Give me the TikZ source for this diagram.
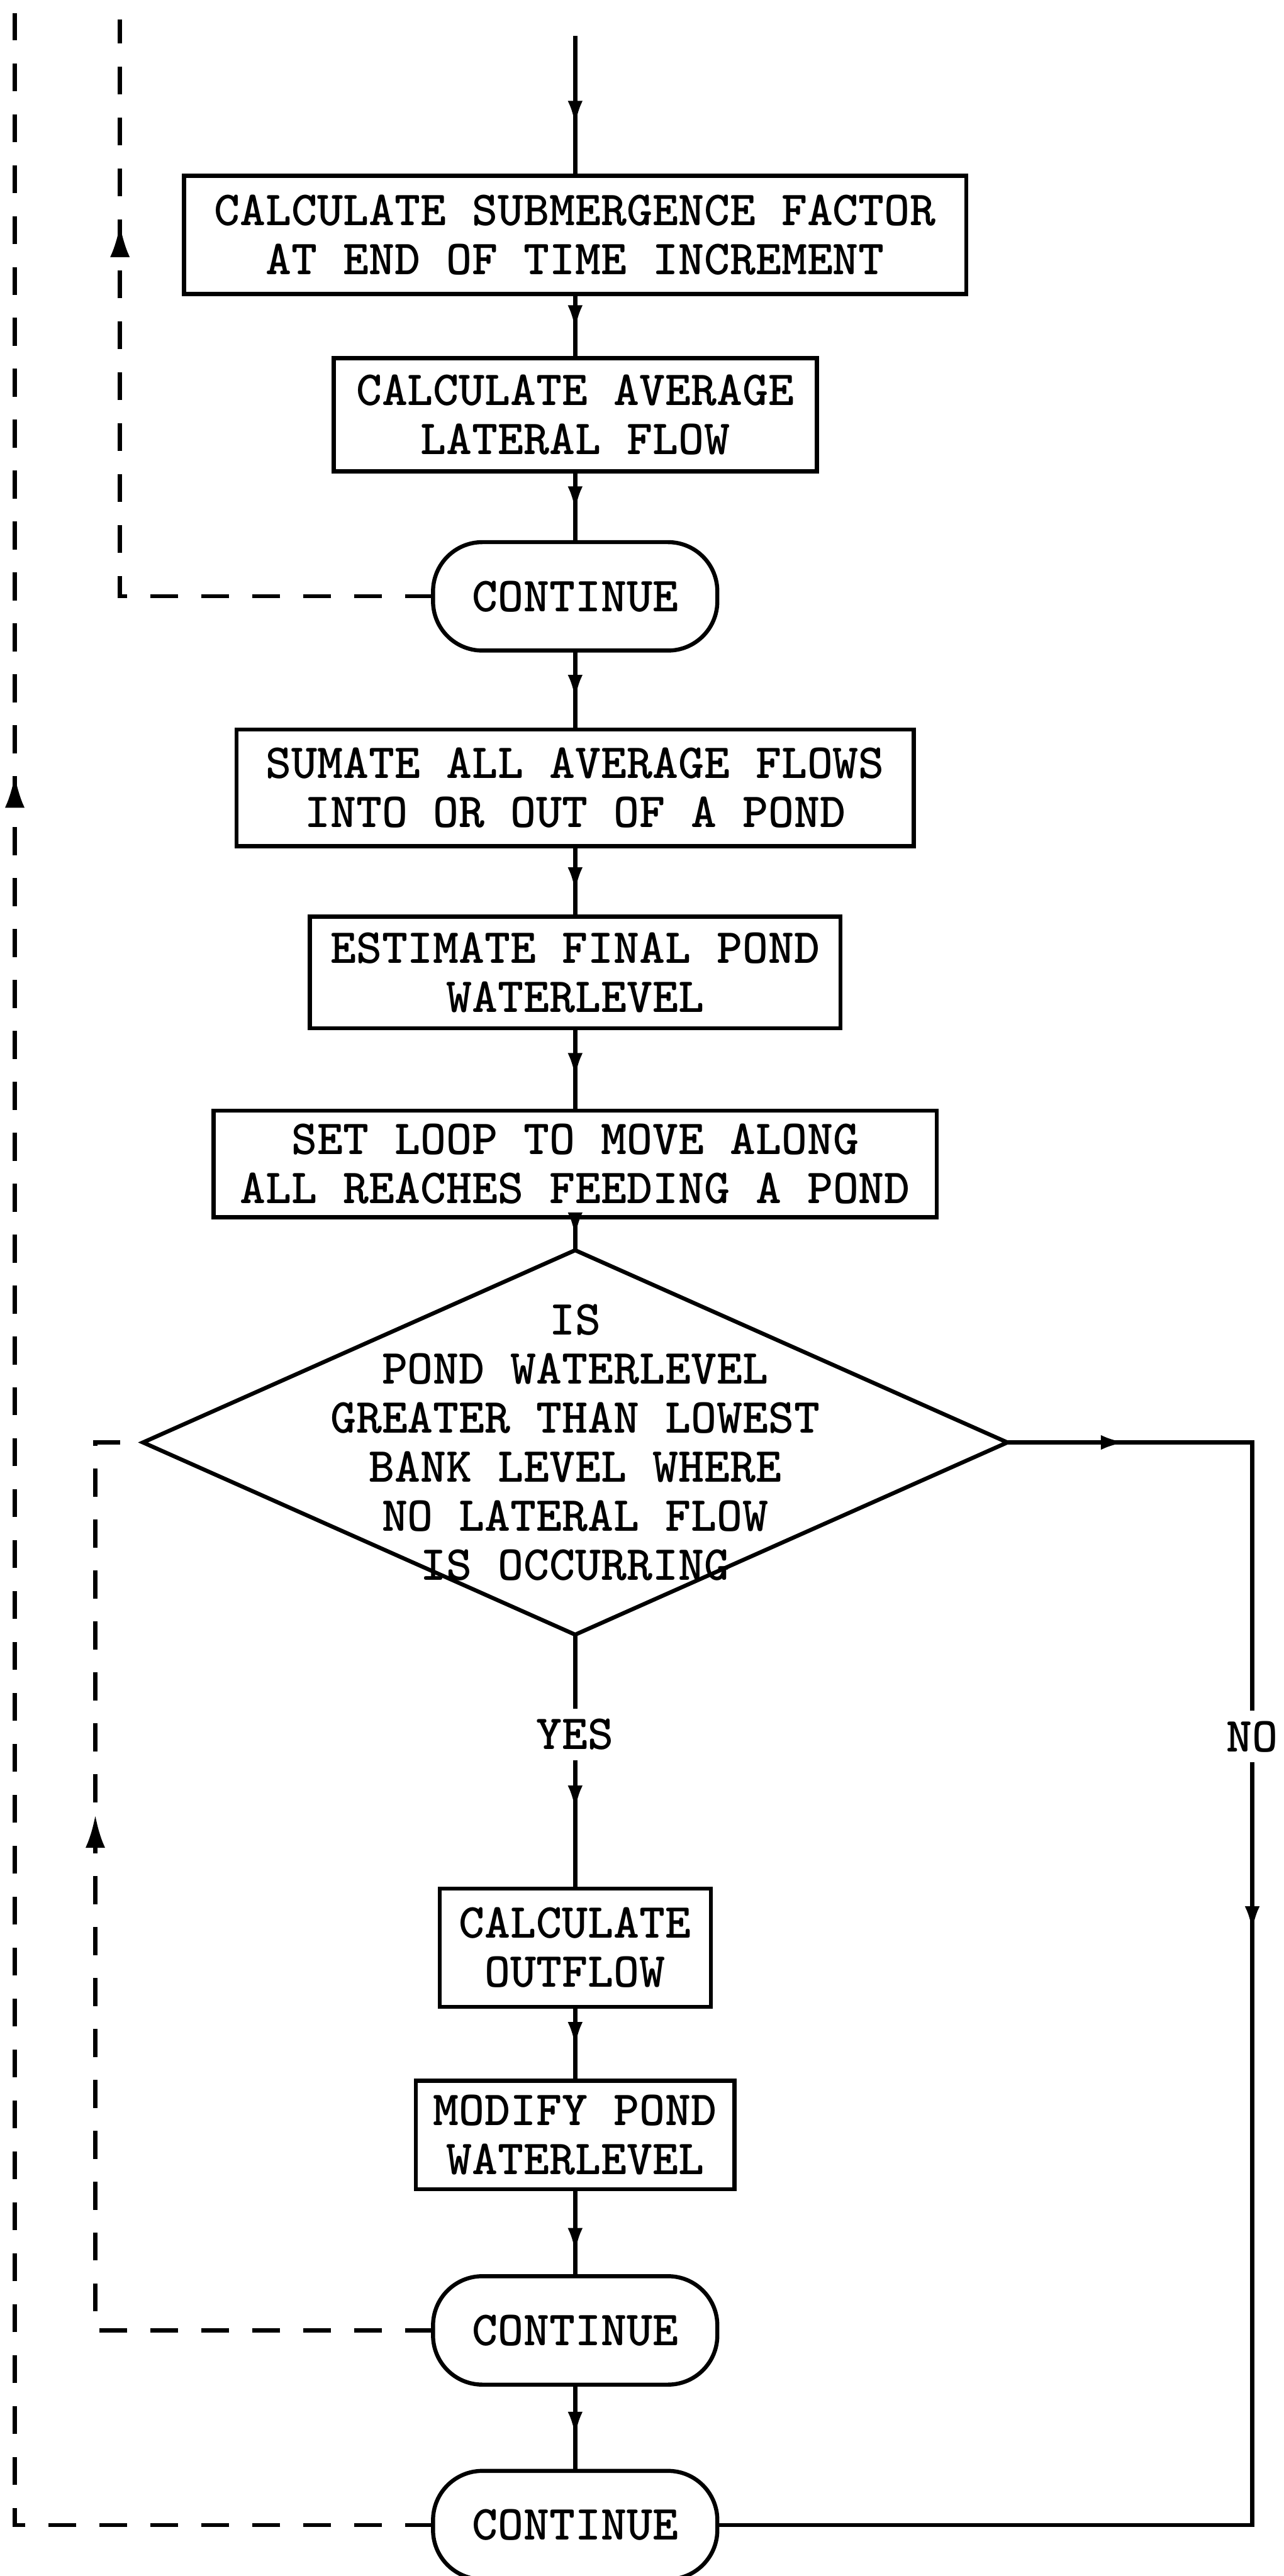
\documentclass[tikz,border=0pt]{standalone}
\usepackage{tikz}
\usetikzlibrary{arrows.meta, positioning, shapes.geometric, decorations.markings}
\newcommand{\flowfont}{\ttfamily\bfseries\fontsize{17}{17}\selectfont}

\begin{document}
\begin{tikzpicture}[
  box/.style={draw,line width=1.4pt,inner sep=1pt,outer sep=0pt,font=\flowfont,align=center},
  term/.style={box,rounded corners=0.6cm,minimum width=3.46cm,minimum height=1.32cm},
  decision/.style={draw,diamond,line width=1.4pt,inner sep=0pt,outer sep=0pt,
    minimum width=10.52cm,minimum height=4.68cm},
  link/.style={line width=1.4pt},
  arr/.style={link,postaction={decorate},decoration={markings,
    mark=at position #1 with {\arrow{Latex[length=0.3cm,width=0.18cm]}}}},
  arr/.default=0.6,
  back/.style={link,dash pattern=on 0.34cm off 0.28cm,postaction={decorate},
    decoration={markings,
    mark=at position #1 with {\arrow{Latex[length=0.4cm,width=0.24cm]}}}}]
  \useasboundingbox (0,0) rectangle (15.62,-31.36);
  \coordinate (entry) at (7,-0.44);
  \coordinate (outtop) at (0.18,-0.16);
  \coordinate (intop) at (1.46,-0.24);
  \node[box,minimum width=9.52cm,minimum height=1.44cm](subfac) at (7,-2.86)
    {CALCULATE SUBMERGENCE FACTOR\\AT END OF TIME INCREMENT};
  \node[box,minimum width=5.88cm,minimum height=1.38cm,below=0.78cm of subfac](latflow)
    {CALCULATE AVERAGE\\LATERAL FLOW};
  \node[term,below=0.86cm of latflow](cont1){CONTINUE};
  \node[box,minimum width=8.24cm,minimum height=1.42cm,below=0.96cm of cont1](sumflow)
    {SUMATE ALL AVERAGE FLOWS\\INTO OR OUT OF A POND};
  \node[box,minimum width=6.46cm,minimum height=1.36cm,below=0.86cm of sumflow](estlev)
    {ESTIMATE FINAL POND\\WATERLEVEL};
  \node[box,minimum width=8.8cm,minimum height=1.3cm,below=1.0cm of estlev](setloop)
    {SET LOOP TO MOVE ALONG\\ALL REACHES FEEDING A POND};
  \node[decision,below=0.4cm of setloop](test){};
  \node[font=\flowfont,align=center](testtxt) at (test)
    {IS\\POND WATERLEVEL\\GREATER THAN LOWEST\\BANK LEVEL WHERE\\NO LATERAL FLOW\\IS OCCURRING};
  \node[font=\flowfont,below=0.9cm of test](yes){YES};
  \node[font=\flowfont](no) at (15.24,-21.14){NO};
  \node[box,minimum width=3.3cm,minimum height=1.44cm,below=3.09cm of test](calcout)
    {CALCULATE\\OUTFLOW};
  \node[box,minimum width=3.88cm,minimum height=1.32cm,below=0.9cm of calcout](modlev)
    {MODIFY POND\\WATERLEVEL};
  \node[term,below=1.06cm of modlev](cont2){CONTINUE};
  \node[term,below=1.05cm of cont2](cont3){CONTINUE};
  % main flow
  \draw[arr=0.64](entry)--(subfac);
  \draw[arr=0.56](subfac)--(latflow);
  \draw[arr=0.56](latflow)--(cont1);
  \draw[arr=0.62](cont1)--(sumflow);
  \draw[arr=0.65](sumflow)--(estlev);
  \draw[arr](estlev)--(setloop);
  \draw[arr](setloop)--(test);
  \draw[link](test)--(yes);
  \draw[arr=0.39](yes)--(calcout);
  \draw[arr=0.54](calcout)--(modlev);
  \draw[arr=0.73](modlev)--(cont2);
  \draw[arr](cont2)--(cont3);
  \draw[arr=0.23](test.east)-|(no.north);
  \draw[arr=0.13](no.south)|-(cont3.east);
  % dashed return paths
  \draw[back=0.77](cont1.west)-|(intop);
  \draw[back=0.67](cont2.west)-|([xshift=-0.58cm]test.west)--(test.west);
  \draw[back=0.74](cont3.west)-|(outtop);
\end{tikzpicture}
\end{document}
